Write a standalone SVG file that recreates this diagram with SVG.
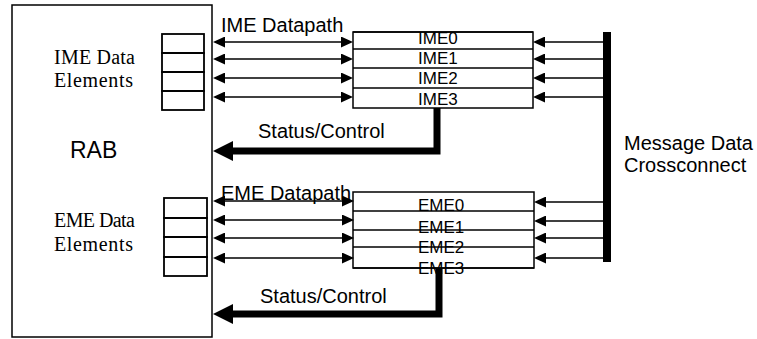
<svg xmlns="http://www.w3.org/2000/svg" width="757" height="339" viewBox="0 0 757 339">
<style>
.box{fill:#fff;stroke:#000;stroke-width:1.5}
.cell{fill:none;stroke:#000;stroke-width:1.8}
.thin{fill:none;stroke:#000;stroke-width:1.5}
.thick{fill:none;stroke:#000;stroke-width:7}
.sans{font-family:"Liberation Sans",Arial,sans-serif;fill:#000}
.serif{font-family:"Liberation Serif","Times New Roman",serif;fill:#000}
</style>
<defs>
<marker id="ah" markerUnits="userSpaceOnUse" markerWidth="12" markerHeight="11" refX="0" refY="5.5" orient="auto-start-reverse">
<path d="M0,0 L12,5.5 L0,11 z" fill="#000"/>
</marker>
<marker id="bh" markerUnits="userSpaceOnUse" markerWidth="20" markerHeight="20" refX="0" refY="10" orient="auto">
<path d="M0,0 L20,10 L0,20 z" fill="#000"/>
</marker>
</defs>

<g id="rab">
<rect class="box" x="12" y="5" width="200" height="332"/>
<text class="sans" x="70" y="158" font-size="23">RAB</text>
</g>

<g id="ime-data-elements">
<text class="serif" x="54" y="64" font-size="20" textLength="81" lengthAdjust="spacing">IME Data</text>
<text class="serif" x="54" y="87" font-size="20" textLength="79" lengthAdjust="spacing">Elements</text>
<rect class="cell" x="162" y="34" width="42" height="19"/>
<rect class="cell" x="162" y="53" width="42" height="19"/>
<rect class="cell" x="162" y="72" width="42" height="19"/>
<rect class="cell" x="162" y="91" width="42" height="19"/>
</g>

<g id="eme-data-elements">
<text class="serif" x="54" y="227" font-size="20" textLength="81" lengthAdjust="spacing">EME Data</text>
<text class="serif" x="54" y="251" font-size="20" textLength="79" lengthAdjust="spacing">Elements</text>
<rect class="cell" x="164" y="198" width="43" height="20"/>
<rect class="cell" x="164" y="218" width="43" height="19"/>
<rect class="cell" x="164" y="237" width="43" height="20"/>
<rect class="cell" x="164" y="257" width="43" height="19"/>
</g>

<g id="ime">
<rect class="box" x="353" y="32" width="180" height="76"/>
<text class="sans" x="418" y="44" font-size="17">IME0</text>
<text class="sans" x="418" y="64" font-size="17">IME1</text>
<text class="sans" x="418" y="84" font-size="17">IME2</text>
<text class="sans" x="418" y="105" font-size="17">IME3</text>
<line class="thin" x1="353" y1="32" x2="533" y2="32"/>
<line class="thin" x1="353" y1="49" x2="533" y2="49"/>
<line class="thin" x1="353" y1="68" x2="533" y2="68"/>
<line class="thin" x1="353" y1="88" x2="533" y2="88"/>
</g>

<g id="eme">
<rect class="box" x="353" y="192" width="181" height="76" fill="none"/>
<text class="sans" x="418" y="211" font-size="17">EME0</text>
<text class="sans" x="418" y="233" font-size="17">EME1</text>
<text class="sans" x="418" y="253" font-size="17">EME2</text>
<text class="sans" x="418" y="274" font-size="17">EME3</text>
<line class="thin" x1="353" y1="211" x2="534" y2="211"/>
<line class="thin" x1="353" y1="230" x2="534" y2="230"/>
<line class="thin" x1="353" y1="247" x2="534" y2="247"/>
<line class="thin" x1="353" y1="268" x2="534" y2="268"/>
</g>

<g id="crossconnect">
<rect x="603" y="32" width="8" height="230" fill="#000"/>
<text class="sans" x="624" y="150" font-size="20">Message Data</text>
<text class="sans" x="624" y="172" font-size="20">Crossconnect</text>
</g>

<g id="connectors">
<text class="sans" x="221" y="32" font-size="20">IME Datapath</text>
<line class="thin" x1="225" y1="42" x2="341" y2="42" marker-start="url(#ah)" marker-end="url(#ah)"/>
<line class="thin" x1="225" y1="59" x2="341" y2="59" marker-start="url(#ah)" marker-end="url(#ah)"/>
<line class="thin" x1="225" y1="78" x2="341" y2="78" marker-start="url(#ah)" marker-end="url(#ah)"/>
<line class="thin" x1="225" y1="97" x2="341" y2="97" marker-start="url(#ah)" marker-end="url(#ah)"/>
<line class="thin" x1="603" y1="42" x2="545" y2="42" marker-end="url(#ah)"/>
<line class="thin" x1="603" y1="59" x2="545" y2="59" marker-end="url(#ah)"/>
<line class="thin" x1="603" y1="78" x2="545" y2="78" marker-end="url(#ah)"/>
<line class="thin" x1="603" y1="97" x2="545" y2="97" marker-end="url(#ah)"/>
<text class="sans" x="258" y="138" font-size="20">Status/Control</text>
<path class="thick" d="M437,108 V151 H233" marker-end="url(#bh)"/>

<text class="sans" x="221" y="200" font-size="20">EME Datapath</text>
<line class="thin" x1="225" y1="201" x2="342" y2="201" marker-start="url(#ah)" marker-end="url(#ah)"/>
<line class="thin" x1="225" y1="220" x2="342" y2="220" marker-start="url(#ah)" marker-end="url(#ah)"/>
<line class="thin" x1="225" y1="238" x2="342" y2="238" marker-start="url(#ah)" marker-end="url(#ah)"/>
<line class="thin" x1="225" y1="258" x2="342" y2="258" marker-start="url(#ah)" marker-end="url(#ah)"/>
<line class="thin" x1="603" y1="202" x2="546" y2="202" marker-end="url(#ah)"/>
<line class="thin" x1="603" y1="221" x2="546" y2="221" marker-end="url(#ah)"/>
<line class="thin" x1="603" y1="238" x2="546" y2="238" marker-end="url(#ah)"/>
<line class="thin" x1="603" y1="258" x2="546" y2="258" marker-end="url(#ah)"/>
<text class="sans" x="260" y="303" font-size="20">Status/Control</text>
<path class="thick" d="M439,268 V314 H233" marker-end="url(#bh)"/>
</g>
</svg>
